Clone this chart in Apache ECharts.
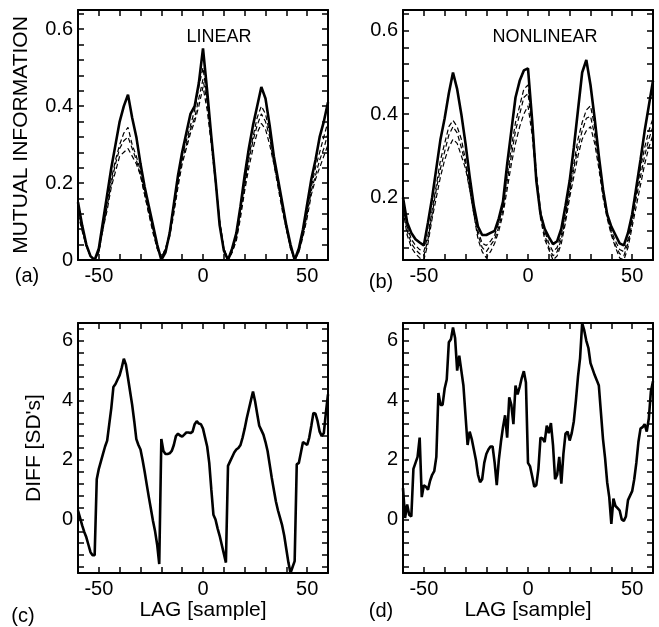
<!DOCTYPE html>
<html><head><meta charset="utf-8">
<script src="https://cdn.jsdelivr.net/npm/echarts@6/dist/echarts.min.js"></script>
<style>html,body{margin:0;padding:0;background:#fff}#c{width:659px;height:627px}</style>
</head><body><div id="c"></div>
<script>
// ---- lags ----
const lagsMI = [-60,-58,-56,-54,-52,-50,-48,-46,-44,-42,-40,-38,-36,-34,-32,-30,-28,-26,-24,-22,-20,-18,-16,-14,-12,-10,-8,-6,-4,-2,0,2,4,6,8,10,12,14,16,18,20,22,24,26,28,30,32,34,36,38,40,42,44,46,48,50,52,54,56,58,60];
const lagsDiff = [-60,-59,-58,-57,-56,-55,-54,-53,-52,-51,-50,-49,-48,-47,-46,-45,-44,-43,-42,-41,-40,-39,-38,-37,-36,-35,-34,-33,-32,-31,-30,-29,-28,-27,-26,-25,-24,-23,-22,-21,-20,-19,-18,-17,-16,-15,-14,-13,-12,-11,-10,-9,-8,-7,-6,-5,-4,-3,-2,-1,0,1,2,3,4,5,6,7,8,9,10,11,12,13,14,15,16,17,18,19,20,21,22,23,24,25,26,27,28,29,30,31,32,33,34,35,36,37,38,39,40,41,42,43,44,45,46,47,48,49,50,51,52,53,54,55,56,57,58,59,60];

// ---- (a) LINEAR mutual information ----
const linSolid = [0.15,0.09,0.04,0.01,0,0.03,0.10,0.17,0.24,0.30, 0.36,0.40,0.43,0.37,0.32,0.25,0.19,0.14,0.09,0.04, 0,0.02,0.07,0.145,0.22,0.28,0.33,0.38,0.40,0.46, 0.55,0.44,0.32,0.21,0.09,0.025,0,0.03,0.07,0.14, 0.22,0.29,0.35,0.40,0.45,0.42,0.35,0.27,0.21,0.15, 0.09,0.04,0,0.03,0.08,0.145,0.21,0.26,0.32,0.36,0.41];
const linDash1 = [0.14,0.085,0.04,0.01,0,0.025,0.09,0.15,0.21,0.26, 0.30,0.33,0.345,0.30,0.27,0.23,0.18,0.13,0.08,0.035, 0.005,0.025,0.07,0.14,0.21,0.27,0.31,0.35,0.39,0.45, 0.50,0.42,0.32,0.21,0.10,0.03,0,0.025,0.06,0.13, 0.20,0.27,0.32,0.37,0.40,0.38,0.33,0.26,0.20,0.14, 0.085,0.035,0,0.025,0.07,0.13,0.19,0.24,0.28,0.32,0.36];
const linDash2 = [0.13,0.08,0.035,0.01,0,0.02,0.08,0.14,0.20,0.25, 0.29,0.31,0.32,0.29,0.26,0.22,0.17,0.12,0.08,0.03, 0.005,0.03,0.07,0.13,0.20,0.26,0.30,0.34,0.37,0.42, 0.47,0.41,0.31,0.21,0.10,0.03,0,0.02,0.055,0.12, 0.19,0.26,0.31,0.35,0.38,0.36,0.32,0.25,0.20,0.14, 0.08,0.03,0,0.02,0.065,0.12,0.18,0.22,0.26,0.29,0.33];
const linDash3 = [0.12,0.075,0.035,0.01,0,0.02,0.08,0.13,0.19,0.23, 0.27,0.28,0.29,0.27,0.25,0.22,0.17,0.12,0.07,0.03, 0.005,0.03,0.06,0.12,0.19,0.25,0.29,0.33,0.36,0.40, 0.45,0.39,0.30,0.20,0.10,0.03,0,0.02,0.05,0.11, 0.18,0.24,0.29,0.33,0.355,0.34,0.30,0.25,0.19,0.13, 0.08,0.03,0,0.02,0.06,0.11,0.17,0.21,0.24,0.27,0.30];

// ---- (b) NONLINEAR mutual information ----
const nonSolid = [0.20,0.14,0.115,0.10,0.092,0.085,0.14,0.20,0.27,0.34, 0.39,0.45,0.50,0.46,0.40,0.33,0.25,0.18,0.13,0.11, 0.11,0.115,0.12,0.15,0.19,0.28,0.36,0.44,0.48,0.505, 0.51,0.385,0.24,0.16,0.125,0.105,0.088,0.095,0.125,0.18, 0.24,0.32,0.41,0.50,0.53,0.47,0.39,0.30,0.22,0.16, 0.13,0.11,0.09,0.085,0.115,0.16,0.225,0.29,0.36,0.42,0.48];
const nonDash1 = [0.19,0.13,0.10,0.085,0.075,0.07,0.11,0.17,0.23,0.29, 0.33,0.37,0.385,0.37,0.34,0.29,0.23,0.17,0.12,0.09, 0.085,0.095,0.11,0.14,0.18,0.25,0.32,0.38,0.42,0.46, 0.47,0.38,0.26,0.17,0.12,0.09,0.07,0.08,0.11,0.16, 0.22,0.28,0.34,0.38,0.41,0.42,0.37,0.29,0.22,0.16, 0.12,0.095,0.075,0.07,0.10,0.15,0.21,0.27,0.32,0.36,0.39];
const nonDash2 = [0.18,0.12,0.09,0.075,0.065,0.06,0.10,0.16,0.22,0.27, 0.31,0.35,0.37,0.355,0.32,0.28,0.22,0.16,0.11,0.08, 0.07,0.085,0.10,0.13,0.17,0.24,0.30,0.36,0.40,0.44, 0.45,0.37,0.25,0.16,0.11,0.08,0.06,0.07,0.10,0.15, 0.21,0.27,0.32,0.36,0.39,0.395,0.35,0.28,0.21,0.155, 0.115,0.085,0.065,0.06,0.09,0.14,0.20,0.25,0.30,0.34,0.37];
const nonDash3 = [0.17,0.11,0.08,0.065,0.055,0.05,0.09,0.15,0.20,0.25, 0.29,0.32,0.34,0.33,0.30,0.27,0.22,0.16,0.10,0.07, 0.055,0.07,0.09,0.12,0.16,0.22,0.28,0.33,0.37,0.40, 0.42,0.35,0.24,0.15,0.10,0.075,0.05,0.06,0.09,0.14, 0.20,0.25,0.30,0.34,0.36,0.37,0.33,0.27,0.20,0.15, 0.11,0.08,0.055,0.05,0.08,0.13,0.18,0.23,0.28,0.32,0.35];

// ---- (c) DIFF linear ----
const diffLin = [0.3,0.05,-0.2,-0.42,-0.6,-0.85,-1.1,-1.2,-1.2,1.35, 1.7,1.95,2.2,2.45,2.65,3.2,3.75,4.45,4.55,4.7, 4.85,5.1,5.4,5.2,4.75,4.3,3.85,3.3,2.7,2.5, 2.35,2.0,1.6,1.17,0.75,0.35,-0.05,-0.4,-0.85,-1.5, 2.7,2.3,2.2,2.2,2.22,2.3,2.5,2.8,2.88,2.82, 2.78,2.85,2.92,2.92,2.9,2.95,3.2,3.3,3.22,3.2, 3.05,2.75,2.45,1.9,1.0,0.16,0.0,-0.3,-0.55,-0.85, -1.15,-1.45,1.8,1.95,2.1,2.25,2.35,2.4,2.5,2.75, 3.05,3.4,3.7,4.0,4.3,3.97,3.55,3.15,3.0,2.85, 2.6,2.3,1.85,1.4,1.0,0.6,0.3,0.05,-0.2,-0.55, -1.0,-1.45,-1.8,-1.6,-1.4,1.85,1.9,2.25,2.6,2.55, 2.5,2.75,3.15,3.58,3.55,3.3,2.95,2.8,2.9,3.6,4.2];

// ---- (d) DIFF nonlinear ----
const diffNon = [1.05,0.05,0.5,0.15,0.1,1.7,1.9,2.1,2.75,0.75, 1.15,1.1,1.0,1.3,1.5,1.62,2.1,4.25,3.85,3.85, 4.4,4.7,5.95,6.05,6.45,6.1,5.0,5.5,5.0,4.5, 3.5,2.5,2.95,2.7,2.35,2.0,1.5,1.25,1.35,1.9, 2.2,2.35,2.45,2.45,1.9,1.15,2.0,2.6,3.1,3.5, 2.75,4.1,3.85,3.2,4.5,4.2,4.45,4.75,4.98,4.6, 1.9,1.78,1.45,1.1,1.15,1.7,2.75,2.72,2.6,3.15, 2.9,3.24,2.5,1.35,1.5,2.1,1.2,2.2,2.88,2.95, 2.65,2.9,3.3,4.0,4.8,5.42,6.6,6.35,6.0,5.76, 5.25,5.05,4.85,4.68,4.5,3.6,2.7,2.06,1.25,0.75, -0.15,0.7,0.45,0.38,0.3,0.0,-0.05,0.1,0.65,0.8, 0.95,1.35,1.9,2.6,3.05,3.1,3.2,2.95,3.4,4.3,4.64];

// ---- tick values / labels ----
const xTicks = [-50,-40,-30,-20,-10,0,10,20,30,40,50];
const xLabels = [-50,0,50];
const miTicksA = [0.04,0.08,0.12,0.16,0.2,0.24,0.28,0.32,0.36,0.4,0.44,0.48,0.52,0.56,0.6,0.64];
const miLabelsA = [0,0.2,0.4,0.6];
const miTicksB = [0.08,0.12,0.16,0.2,0.24,0.28,0.32,0.36,0.4,0.44,0.48,0.52,0.56,0.6,0.64];
const miLabelsB = [0.2,0.4,0.6];
const diffTicks = [-1.6,-1.2,-0.8,-0.4,0,0.4,0.8,1.2,1.6,2,2.4,2.8,3.2,3.6,4,4.4,4.8,5.2,5.6,6,6.4];
const diffLabels = [0,2,4,6];

const FONT = 'Liberation Sans, Arial, Helvetica, sans-serif';
const pair = (xs, ys) => xs.map((x, i) => [x, ys[i]]);

const grids = [
  {left: 78, top: 10, width: 250, height: 250},
  {left: 403, top: 10, width: 250, height: 250},
  {left: 78, top: 323, width: 250, height: 250},
  {left: 403, top: 323, width: 250, height: 250}
];
const yCfg = [
  {min: 0, max: 0.65, ticks: miTicksA, labels: miLabelsA, name: 'MUTUAL INFORMATION', gap: 46},
  {min: 0.05, max: 0.65, ticks: miTicksB, labels: miLabelsB, name: '', gap: 0},
  {min: -1.8, max: 6.6, ticks: diffTicks, labels: diffLabels, name: "DIFF [SD's]", gap: 33},
  {min: -1.8, max: 6.6, ticks: diffTicks, labels: diffLabels, name: '', gap: 0}
];
const xNames = ['', '', 'LAG [sample]', 'LAG [sample]'];

const lineStyleAxis = {color: '#000', width: 2};
const tickStyle = {inside: true, length: 6, lineStyle: {color: '#000', width: 1.5}};
const xAxes = [], yAxes = [];
grids.forEach((g, i) => {
  xAxes.push({gridIndex: i, type: 'value', min: -60, max: 60, position: 'bottom',
    axisLine: {show: true, onZero: false, lineStyle: lineStyleAxis},
    axisTick: Object.assign({customValues: xTicks}, tickStyle),
    axisLabel: {customValues: xLabels, color: '#000', fontSize: 20, fontFamily: FONT, margin: 6},
    splitLine: {show: false},
    name: xNames[i], nameLocation: 'middle', nameGap: 25,
    nameTextStyle: {color: '#000', fontSize: 21, fontFamily: FONT}});
  xAxes.push({gridIndex: i, type: 'value', min: -60, max: 60, position: 'top',
    axisLine: {show: true, onZero: false, lineStyle: lineStyleAxis},
    axisTick: Object.assign({customValues: xTicks}, tickStyle),
    axisLabel: {show: false}, splitLine: {show: false}});
  const c = yCfg[i];
  yAxes.push({gridIndex: i, type: 'value', min: c.min, max: c.max, position: 'left',
    axisLine: {show: true, onZero: false, lineStyle: lineStyleAxis},
    axisTick: Object.assign({customValues: c.ticks}, tickStyle),
    axisLabel: {customValues: c.labels, color: '#000', fontSize: 20, fontFamily: FONT, margin: 5},
    splitLine: {show: false},
    name: c.name, nameLocation: 'middle', nameGap: c.gap,
    nameTextStyle: {color: '#000', fontSize: 21, fontFamily: FONT}});
  yAxes.push({gridIndex: i, type: 'value', min: c.min, max: c.max, position: 'right',
    axisLine: {show: true, onZero: false, lineStyle: lineStyleAxis},
    axisTick: Object.assign({customValues: c.ticks}, tickStyle),
    axisLabel: {show: false}, splitLine: {show: false}});
});

function solid(idx, xs, ys) {
  return {type: 'line', xAxisIndex: idx * 2, yAxisIndex: idx * 2, data: pair(xs, ys),
    symbol: 'none', lineStyle: {color: '#000', width: 2.6}, z: 5, silent: true};
}
function dashed(idx, xs, ys) {
  return {type: 'line', xAxisIndex: idx * 2, yAxisIndex: idx * 2, data: pair(xs, ys),
    symbol: 'none', lineStyle: {color: '#000', width: 1.2, type: [5, 3]}, z: 4, silent: true};
}

const series = [
  dashed(0, lagsMI, linDash1), dashed(0, lagsMI, linDash2), dashed(0, lagsMI, linDash3), solid(0, lagsMI, linSolid),
  dashed(1, lagsMI, nonDash1), dashed(1, lagsMI, nonDash2), dashed(1, lagsMI, nonDash3), solid(1, lagsMI, nonSolid),
  solid(2, lagsDiff, diffLin),
  solid(3, lagsDiff, diffNon)
];

const txt = (text, x, y, size) => ({type: 'text', x: x, y: y,
  style: {text: text, fill: '#000', font: size + 'px ' + FONT, align: 'center', verticalAlign: 'middle'}});

const chart = echarts.init(document.getElementById('c'), null, {renderer: 'canvas'});
chart.setOption({
  animation: false,
  backgroundColor: '#fff',
  grid: grids,
  xAxis: xAxes,
  yAxis: yAxes,
  series: series,
  graphic: [
    txt('(a)', 27, 276, 20), txt('(b)', 381, 282, 20), txt('(c)', 23, 616, 20), txt('(d)', 381, 611, 20),
    txt('LINEAR', 219, 37, 18), txt('NONLINEAR', 545, 37, 18)
  ]
});
</script>
</body></html>
